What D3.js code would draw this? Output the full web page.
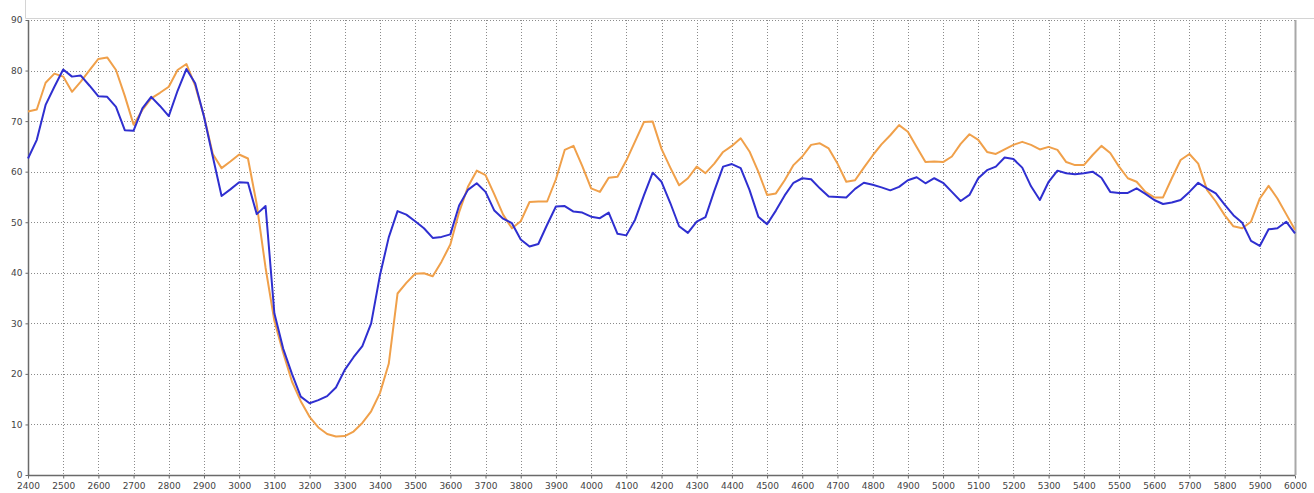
<!DOCTYPE html>
<html>
<head>
<meta charset="utf-8">
<script src="https://cdn.jsdelivr.net/npm/d3@7"></script>
<style>
  html, body { margin: 0; padding: 0; background: #fff; }
  svg { display: block; }
  text { font-family: "DejaVu Sans", Verdana, sans-serif; }
</style>
</head>
<body>
<svg id="chart" width="1314" height="493"></svg>
<script>
// Frequency axis: samples every 25 units from 2400 to 6000
const freqStart = 2400;
const freqStep = 25;

const xTicks = [2400,2500,2600,2700,2800,2900,3000,3100,3200,3300,3400,3500,3600,3700,3800,3900,4000,4100,4200,4300,4400,4500,4600,4700,4800,4900,5000,5100,5200,5300,5400,5500,5600,5700,5800,5900,6000];
const yTicks = [0,10,20,30,40,50,60,70,80,90];

// Blue trace
const blueValues = [
  62.6,66.3,73.2,76.8,80.2,78.8,79.0,77.0,74.9,74.8,72.8,68.2,68.1,72.5,74.8,73.0,71.0,76.0,80.3,77.5,
  70.9,63.0,55.2,56.5,57.9,57.8,51.6,53.2,32.0,25.0,20.0,15.5,14.2,14.8,15.6,17.3,20.8,23.3,25.5,30.0,
  39.5,47.0,52.2,51.5,50.2,48.8,46.9,47.1,47.6,53.3,56.4,57.7,56.0,52.3,50.7,49.8,46.6,45.2,45.7,49.5,
  53.1,53.2,52.1,51.9,51.1,50.8,51.9,47.7,47.4,50.5,55.3,59.8,58.0,53.8,49.2,47.9,50.1,51.0,56.2,61.0,
  61.5,60.7,56.4,51.1,49.6,52.3,55.3,57.8,58.7,58.5,56.7,55.1,55.0,54.9,56.6,57.8,57.4,56.9,56.3,57.0,
  58.3,58.9,57.7,58.7,57.8,56.0,54.2,55.4,58.7,60.3,61.0,62.8,62.5,60.8,57.1,54.4,58.0,60.2,59.7,59.5,
  59.7,60.0,58.8,56.0,55.8,55.8,56.7,55.6,54.4,53.6,53.9,54.4,56.0,57.8,56.7,55.7,53.5,51.4,49.9,46.3,
  45.3,48.6,48.8,50.1,47.8
];

// Orange trace
const orangeValues = [
  71.9,72.3,77.6,79.4,78.8,75.8,77.8,80.1,82.3,82.6,80.1,75.0,69.3,72.2,74.5,75.6,76.8,80.1,81.3,77.0,
  71.0,63.5,60.7,62.0,63.4,62.6,53.5,41.0,30.5,24.2,18.5,14.6,11.5,9.4,8.1,7.6,7.7,8.6,10.3,12.6,
  16.2,22.0,35.9,38.0,39.8,39.9,39.3,42.2,45.6,52.0,57.0,60.2,59.3,55.5,51.5,48.8,50.2,54.0,54.1,54.1,
  58.5,64.3,65.1,61.1,56.7,56.0,58.8,59.0,62.2,66.0,69.8,69.9,64.5,60.8,57.3,58.7,61.0,59.7,61.6,63.9,
  65.1,66.6,64.0,60.0,55.4,55.7,58.3,61.3,63.0,65.3,65.6,64.6,61.6,58.0,58.3,60.8,63.2,65.4,67.2,69.2,
  67.9,64.9,61.9,62.0,61.9,63.0,65.5,67.4,66.3,63.9,63.5,64.4,65.3,65.9,65.3,64.4,64.9,64.3,61.9,61.3,
  61.3,63.3,65.1,63.7,61.0,58.7,58.0,56.0,54.9,54.9,58.7,62.3,63.5,61.6,56.4,54.1,51.4,49.2,48.8,50.1,
  54.7,57.2,54.7,51.6,48.5
];

const svg = d3.select("#chart");

const plot = { left: 28, right: 1295, top: 20, bottom: 475 };

const x = d3.scaleLinear().domain([2400, 6000]).range([plot.left, plot.right]);
const y = d3.scaleLinear().domain([0, 90]).range([plot.bottom, plot.top]);

// Header panel outline above the plot
svg.append("line")
  .attr("x1", 25.5).attr("x2", 25.5).attr("y1", 0).attr("y2", 18.5)
  .attr("stroke", "#d4d4d4").attr("stroke-width", 1);
svg.append("line")
  .attr("x1", 25.5).attr("x2", 1314).attr("y1", 18.5).attr("y2", 18.5)
  .attr("stroke", "#d4d4d4").attr("stroke-width", 1);

// Grid
const grid = svg.append("g").attr("class", "grid");
grid.selectAll("line.v")
  .data(xTicks.slice(1, -1))
  .join("line")
  .attr("class", "v")
  .attr("x1", d => Math.round(x(d)) + 0.5).attr("x2", d => Math.round(x(d)) + 0.5)
  .attr("y1", plot.top).attr("y2", plot.bottom)
  .attr("stroke", "#8a8a8a").attr("stroke-width", 1)
  .attr("stroke-dasharray", "1,2");
grid.selectAll("line.h")
  .data(yTicks.slice(1))
  .join("line")
  .attr("class", "h")
  .attr("x1", plot.left).attr("x2", plot.right)
  .attr("y1", d => Math.round(y(d)) + 0.5).attr("y2", d => Math.round(y(d)) + 0.5)
  .attr("stroke", "#8a8a8a").attr("stroke-width", 1)
  .attr("stroke-dasharray", "1,2");

// Right border of the plot
svg.append("line")
  .attr("x1", plot.right + 0.5).attr("x2", plot.right + 0.5)
  .attr("y1", plot.top).attr("y2", plot.bottom)
  .attr("stroke", "#a8a8a8").attr("stroke-width", 2);

// Axes
const xAxis = d3.axisBottom(x).tickValues(xTicks).tickSize(3).tickPadding(4).tickFormat(d3.format("d"));
const yAxis = d3.axisLeft(y).tickValues(yTicks).tickSize(3).tickPadding(3).tickFormat(d3.format("d"));

const gx = svg.append("g").attr("transform", `translate(0,${plot.bottom + 0.5})`).call(xAxis);
const gy = svg.append("g").attr("transform", `translate(${plot.left + 0.5},0)`).call(yAxis);

[gx, gy].forEach(g => {
  g.select(".domain").attr("stroke", "#6a6a6a").attr("stroke-width", 1.5);
  g.selectAll(".tick line").attr("stroke", "#6a6a6a");
  g.selectAll(".tick text").attr("fill", "#444").attr("font-size", "9px");
});
gy.select(".domain").attr("d", `M0,${plot.top}V${plot.bottom}`);
gx.select(".domain").attr("d", `M${plot.left},0H${plot.right}`);

// Traces
const line = d3.line()
  .x((d, i) => x(freqStart + i * freqStep))
  .y(d => y(d));

svg.append("path")
  .datum(orangeValues)
  .attr("fill", "none")
  .attr("stroke", "#f0a04a")
  .attr("stroke-width", 2)
  .attr("stroke-linejoin", "round")
  .attr("d", line);

svg.append("path")
  .datum(blueValues)
  .attr("fill", "none")
  .attr("stroke", "#2f2fd0")
  .attr("stroke-width", 2)
  .attr("stroke-linejoin", "round")
  .attr("d", line);
</script>
</body>
</html>
